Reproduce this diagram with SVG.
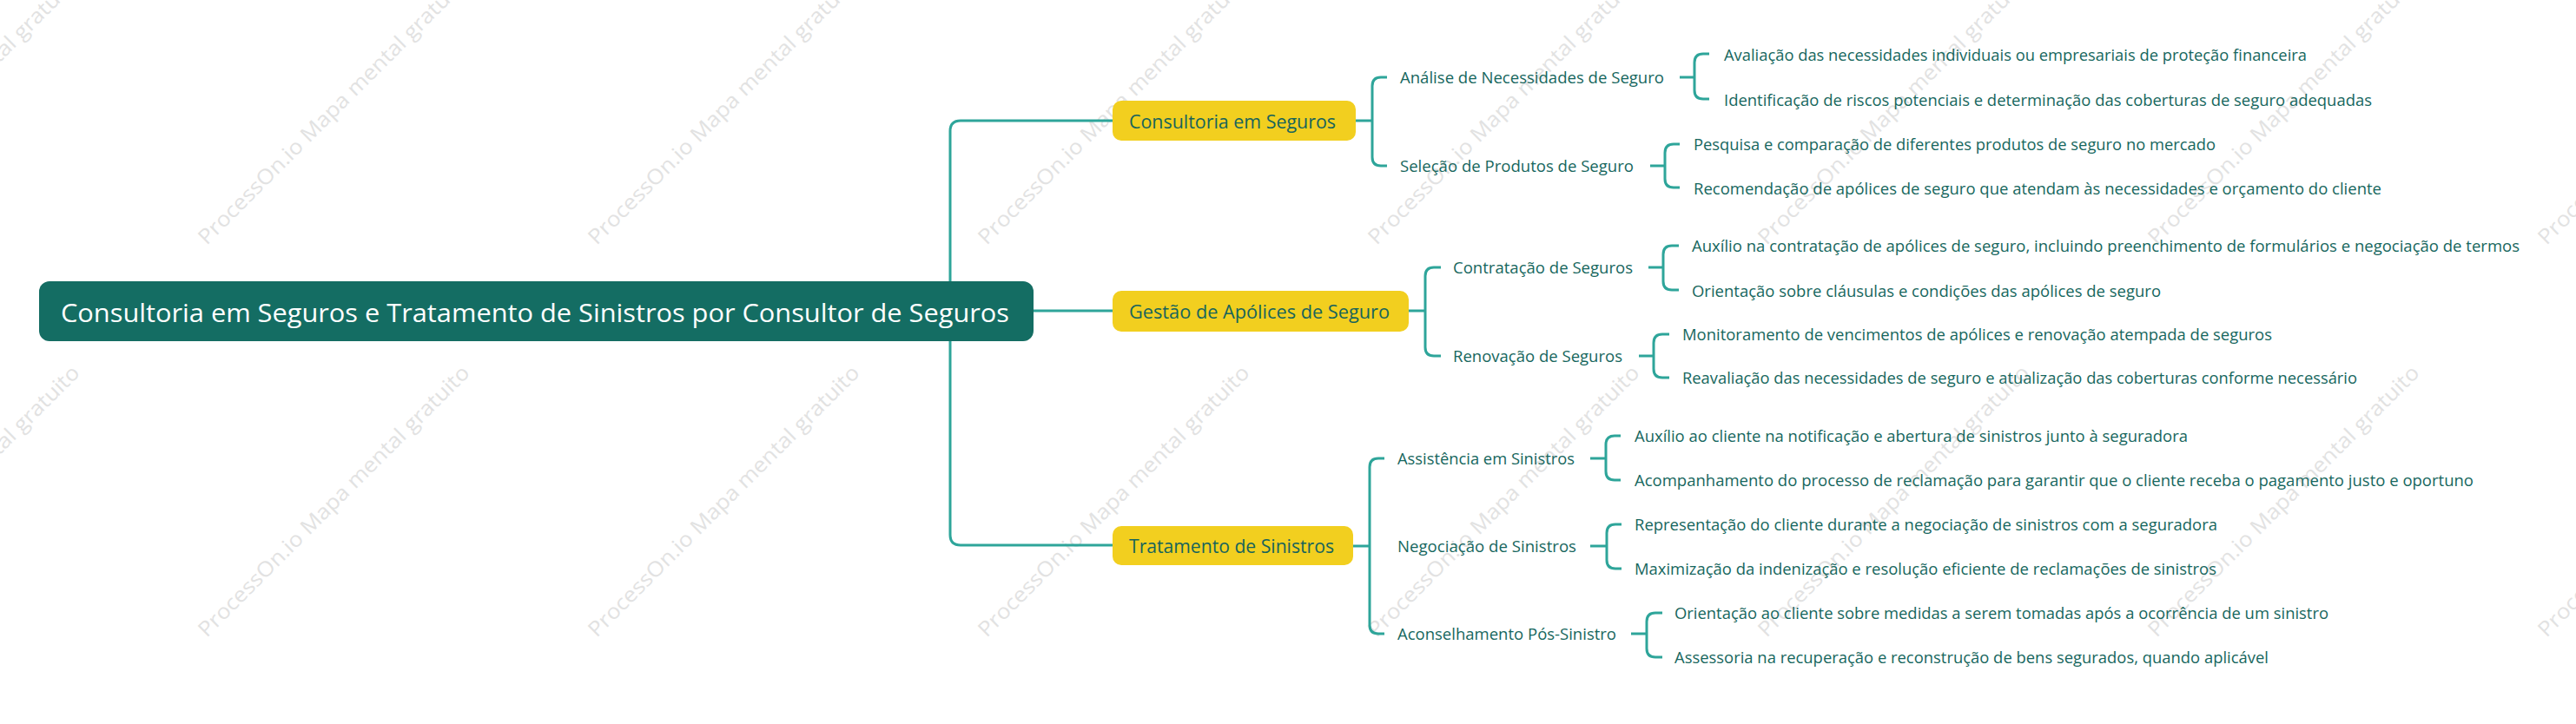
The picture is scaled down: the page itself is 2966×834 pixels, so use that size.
<svg xmlns="http://www.w3.org/2000/svg" width="2966" height="834" viewBox="0 0 2966 834">
<style>
.wm{font-family:"Open Sans","Liberation Sans",sans-serif;font-size:24px;fill:#e2e2e2}
.root-box{fill:#146d63}
.root-t{font-family:"Open Sans","Noto Sans",sans-serif;font-size:30px;fill:#ffffff;dominant-baseline:central}
.l1-box{fill:#f2cf1f}
.l1-t{font-family:"Open Sans","Noto Sans",sans-serif;font-size:22px;fill:#17645c;dominant-baseline:central}
.t{font-family:"Open Sans","Noto Sans",sans-serif;font-size:18px;fill:#17675e;dominant-baseline:central}
.ln{fill:none;stroke:#2ea59a;stroke-width:3;stroke-linecap:butt;stroke-linejoin:round}
</style>
<rect width="2966" height="834" fill="#ffffff"/>
<g id="watermarks">
<text class="wm" transform="translate(-211,283) rotate(-45)" textLength="430" lengthAdjust="spacingAndGlyphs">ProcessOn.io Mapa mental gratuito</text>
<text class="wm" transform="translate(238,283) rotate(-45)" textLength="430" lengthAdjust="spacingAndGlyphs">ProcessOn.io Mapa mental gratuito</text>
<text class="wm" transform="translate(687,283) rotate(-45)" textLength="430" lengthAdjust="spacingAndGlyphs">ProcessOn.io Mapa mental gratuito</text>
<text class="wm" transform="translate(1136,283) rotate(-45)" textLength="430" lengthAdjust="spacingAndGlyphs">ProcessOn.io Mapa mental gratuito</text>
<text class="wm" transform="translate(1585,283) rotate(-45)" textLength="430" lengthAdjust="spacingAndGlyphs">ProcessOn.io Mapa mental gratuito</text>
<text class="wm" transform="translate(2034,283) rotate(-45)" textLength="430" lengthAdjust="spacingAndGlyphs">ProcessOn.io Mapa mental gratuito</text>
<text class="wm" transform="translate(2483,283) rotate(-45)" textLength="430" lengthAdjust="spacingAndGlyphs">ProcessOn.io Mapa mental gratuito</text>
<text class="wm" transform="translate(2932,283) rotate(-45)" textLength="430" lengthAdjust="spacingAndGlyphs">ProcessOn.io Mapa mental gratuito</text>
<text class="wm" transform="translate(-211,735) rotate(-45)" textLength="430" lengthAdjust="spacingAndGlyphs">ProcessOn.io Mapa mental gratuito</text>
<text class="wm" transform="translate(238,735) rotate(-45)" textLength="430" lengthAdjust="spacingAndGlyphs">ProcessOn.io Mapa mental gratuito</text>
<text class="wm" transform="translate(687,735) rotate(-45)" textLength="430" lengthAdjust="spacingAndGlyphs">ProcessOn.io Mapa mental gratuito</text>
<text class="wm" transform="translate(1136,735) rotate(-45)" textLength="430" lengthAdjust="spacingAndGlyphs">ProcessOn.io Mapa mental gratuito</text>
<text class="wm" transform="translate(1585,735) rotate(-45)" textLength="430" lengthAdjust="spacingAndGlyphs">ProcessOn.io Mapa mental gratuito</text>
<text class="wm" transform="translate(2034,735) rotate(-45)" textLength="430" lengthAdjust="spacingAndGlyphs">ProcessOn.io Mapa mental gratuito</text>
<text class="wm" transform="translate(2483,735) rotate(-45)" textLength="430" lengthAdjust="spacingAndGlyphs">ProcessOn.io Mapa mental gratuito</text>
<text class="wm" transform="translate(2932,735) rotate(-45)" textLength="430" lengthAdjust="spacingAndGlyphs">ProcessOn.io Mapa mental gratuito</text>
</g>
<g id="connectors">
<path class="ln" d="M1281,139 H1106 Q1094,139 1094,151 V616 Q1094,628 1106,628 H1281"/>
<path class="ln" d="M1190,358 H1281"/>
<path class="ln" d="M1561,139 H1580"/>
<path class="ln" d="M1597,89 H1590 Q1580,89 1580,99 V181 Q1580,191 1590,191 H1597"/>
<path class="ln" d="M1934,89 H1951"/>
<path class="ln" d="M1968,62 H1961 Q1951,62 1951,72 V104 Q1951,114 1961,114 H1968"/>
<path class="ln" d="M1900,191 H1917"/>
<path class="ln" d="M1934,166 H1927 Q1917,166 1917,176 V206 Q1917,216 1927,216 H1934"/>
<path class="ln" d="M1622,358 H1641"/>
<path class="ln" d="M1659,308 H1651 Q1641,308 1641,318 V400 Q1641,410 1651,410 H1659"/>
<path class="ln" d="M1898,308 H1915"/>
<path class="ln" d="M1933,283 H1925 Q1915,283 1915,293 V324 Q1915,334 1925,334 H1933"/>
<path class="ln" d="M1887,410 H1904"/>
<path class="ln" d="M1922,385 H1914 Q1904,385 1904,395 V425 Q1904,435 1914,435 H1922"/>
<path class="ln" d="M1558,629 H1577"/>
<path class="ln" d="M1594,528 H1587 Q1577,528 1577,538 V720 Q1577,730 1587,730 H1594"/>
<path class="ln" d="M1831,528 H1849"/>
<path class="ln" d="M1866,502 H1859 Q1849,502 1849,512 V543 Q1849,553 1859,553 H1866"/>
<path class="ln" d="M1831,629 H1850"/>
<path class="ln" d="M1867,604 H1860 Q1850,604 1850,614 V645 Q1850,655 1860,655 H1867"/>
<path class="ln" d="M1878,730 H1896"/>
<path class="ln" d="M1914,706 H1906 Q1896,706 1896,716 V747 Q1896,757 1906,757 H1914"/>
</g>
<g id="root">
<rect class="root-box" x="45" y="324" width="1145" height="69" rx="12"/>
<text class="root-t" x="70" y="359" textLength="1092" lengthAdjust="spacingAndGlyphs">Consultoria em Seguros e Tratamento de Sinistros por Consultor de Seguros</text>
</g>
<g id="consultoria">
<rect class="l1-box" x="1281" y="116" width="280" height="46" rx="10"/>
<text class="l1-t" x="1300" y="139" textLength="238" lengthAdjust="spacingAndGlyphs">Consultoria em Seguros</text>
</g>
<g id="gestao">
<rect class="l1-box" x="1281" y="335" width="341" height="47" rx="10"/>
<text class="l1-t" x="1300" y="358" textLength="300" lengthAdjust="spacingAndGlyphs">Gestão de Apólices de Seguro</text>
</g>
<g id="tratamento">
<rect class="l1-box" x="1281" y="606" width="277" height="45" rx="10"/>
<text class="l1-t" x="1300" y="628" textLength="236" lengthAdjust="spacingAndGlyphs">Tratamento de Sinistros</text>
</g>
<g id="analise">
<text class="t" x="1612" y="89" textLength="304" lengthAdjust="spacingAndGlyphs">Análise de Necessidades de Seguro</text>
</g>
<g id="analise-1"><text class="t" x="1985" y="63" textLength="671" lengthAdjust="spacingAndGlyphs">Avaliação das necessidades individuais ou empresariais de proteção financeira</text></g>
<g id="analise-2"><text class="t" x="1985" y="115" textLength="746" lengthAdjust="spacingAndGlyphs">Identificação de riscos potenciais e determinação das coberturas de seguro adequadas</text></g>
<g id="selecao">
<text class="t" x="1612" y="191" textLength="269" lengthAdjust="spacingAndGlyphs">Seleção de Produtos de Seguro</text>
</g>
<g id="selecao-1"><text class="t" x="1950" y="166" textLength="601" lengthAdjust="spacingAndGlyphs">Pesquisa e comparação de diferentes produtos de seguro no mercado</text></g>
<g id="selecao-2"><text class="t" x="1950" y="217" textLength="792" lengthAdjust="spacingAndGlyphs">Recomendação de apólices de seguro que atendam às necessidades e orçamento do cliente</text></g>
<g id="contratacao">
<text class="t" x="1673" y="308" textLength="207" lengthAdjust="spacingAndGlyphs">Contratação de Seguros</text>
</g>
<g id="contratacao-1"><text class="t" x="1948" y="283" textLength="953" lengthAdjust="spacingAndGlyphs">Auxílio na contratação de apólices de seguro, incluindo preenchimento de formulários e negociação de termos</text></g>
<g id="contratacao-2"><text class="t" x="1948" y="335" textLength="540" lengthAdjust="spacingAndGlyphs">Orientação sobre cláusulas e condições das apólices de seguro</text></g>
<g id="renovacao">
<text class="t" x="1673" y="410" textLength="195" lengthAdjust="spacingAndGlyphs">Renovação de Seguros</text>
</g>
<g id="renovacao-1"><text class="t" x="1937" y="385" textLength="679" lengthAdjust="spacingAndGlyphs">Monitoramento de vencimentos de apólices e renovação atempada de seguros</text></g>
<g id="renovacao-2"><text class="t" x="1937" y="435" textLength="777" lengthAdjust="spacingAndGlyphs">Reavaliação das necessidades de seguro e atualização das coberturas conforme necessário</text></g>
<g id="assistencia">
<text class="t" x="1609" y="528" textLength="204" lengthAdjust="spacingAndGlyphs">Assistência em Sinistros</text>
</g>
<g id="assistencia-1"><text class="t" x="1882" y="502" textLength="637" lengthAdjust="spacingAndGlyphs">Auxílio ao cliente na notificação e abertura de sinistros junto à seguradora</text></g>
<g id="assistencia-2"><text class="t" x="1882" y="553" textLength="966" lengthAdjust="spacingAndGlyphs">Acompanhamento do processo de reclamação para garantir que o cliente receba o pagamento justo e oportuno</text></g>
<g id="negociacao">
<text class="t" x="1609" y="629" textLength="206" lengthAdjust="spacingAndGlyphs">Negociação de Sinistros</text>
</g>
<g id="negociacao-1"><text class="t" x="1882" y="604" textLength="671" lengthAdjust="spacingAndGlyphs">Representação do cliente durante a negociação de sinistros com a seguradora</text></g>
<g id="negociacao-2"><text class="t" x="1882" y="655" textLength="670" lengthAdjust="spacingAndGlyphs">Maximização da indenização e resolução eficiente de reclamações de sinistros</text></g>
<g id="aconselhamento">
<text class="t" x="1609" y="730" textLength="252" lengthAdjust="spacingAndGlyphs">Aconselhamento Pós-Sinistro</text>
</g>
<g id="aconselhamento-1"><text class="t" x="1928" y="706" textLength="753" lengthAdjust="spacingAndGlyphs">Orientação ao cliente sobre medidas a serem tomadas após a ocorrência de um sinistro</text></g>
<g id="aconselhamento-2"><text class="t" x="1928" y="757" textLength="684" lengthAdjust="spacingAndGlyphs">Assessoria na recuperação e reconstrução de bens segurados, quando aplicável</text></g>
</svg>
